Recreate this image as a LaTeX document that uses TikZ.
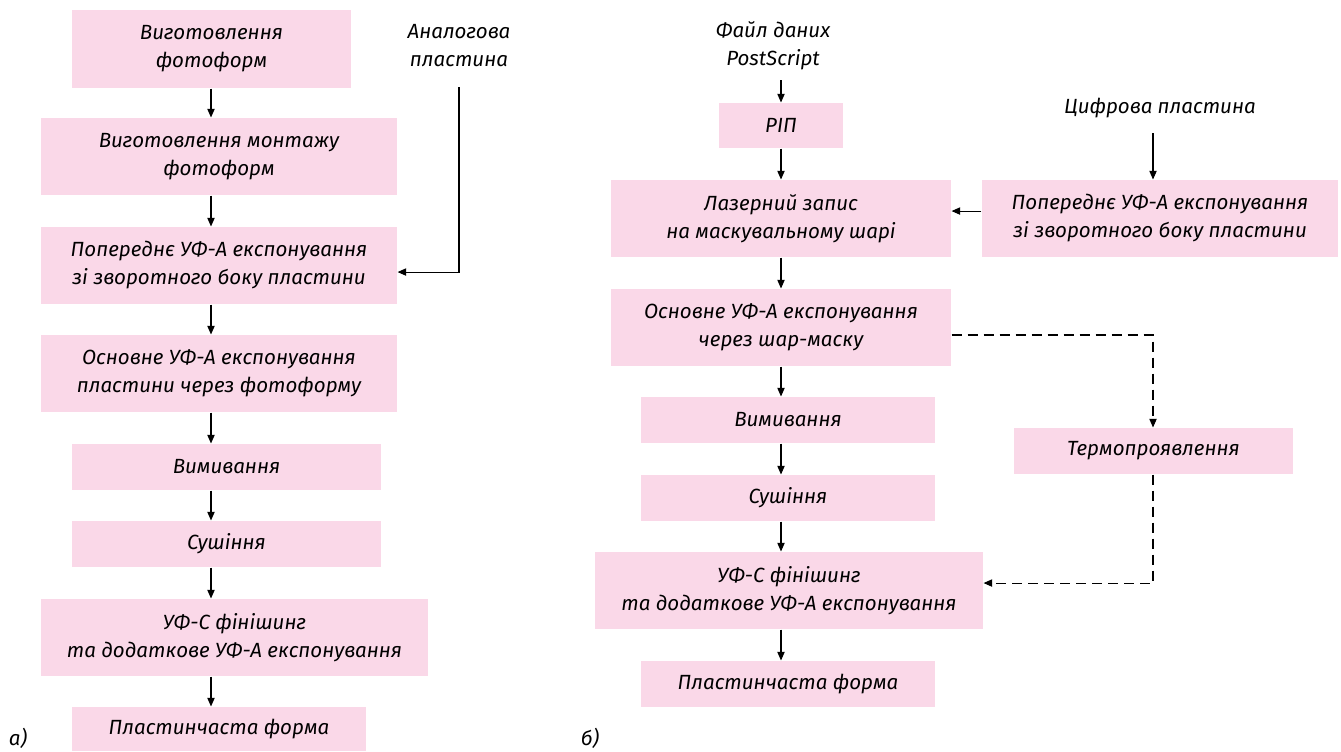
\documentclass[tikz,border=0pt]{standalone}
\usepackage{fontspec}
\setmainfont{Fira Sans}
\usetikzlibrary{arrows.meta}
\definecolor{boxpink}{RGB}{250,216,232}

\begin{document}
\begin{tikzpicture}[x=0.75pt, y=-0.75pt, >={Triangle[length=6.5pt, width=5.5pt]}, line width=0.8pt,
                    font=\itshape\fontsize{15.4}{21}\selectfont]
                \tikzset{stage/.style 2 args={fill=boxpink, align=center, inner sep=0pt,
                                              minimum width=#1*0.75pt, minimum height=#2*0.75pt}}
                \tikzset{source/.style={align=center, inner sep=0pt}}
                \tikzset{thermo/.style={dash pattern=on 7.5pt off 4.5pt}}
                \useasboundingbox (0,0) rectangle (1341,751);

                % SCHEME A: STAGES
                \node[stage={279}{78}] (a1) at (211.5,49) {Виготовлення\\фотоформ};
                \node[stage={356}{77}] (a2) at (219,156.5) {Виготовлення монтажу\\фотоформ};
                \node[stage={356}{77}] (a3) at (219,265.5) {Попереднє УФ-А експонування\\зі зворотного боку пластини};
                \node[stage={356}{77}] (a4) at (219,373.5) {Основне УФ-А експонування\\пластини через фотоформу};
                \node[stage={309}{46}] (a5) at (226.5,467) {Вимивання};
                \node[stage={309}{46}] (a6) at (226.5,544) {Сушіння};
                \node[stage={387}{77}] (a7) at (234.5,637.5) {УФ-С фінішинг\\та додаткове УФ-А експонування};
                \node[stage={294}{44}] (a8) at (219,729) {Пластинчаста форма};

                % SCHEME A: INPUT
                \node[source] (analog) at (459,46) {Аналогова\\пластина};
                \coordinate (astart) at (459,87);
                \coordinate (aspine) at (211,0);

                % SCHEME A: TRANSITIONS
                \foreach \from/\to in {a1/a2, a2/a3, a3/a4, a4/a5, a5/a6, a6/a7, a7/a8}
                    \draw[->] (\from.south -| aspine) -- (\to.north -| aspine);
                \draw[->] (astart) |- ([yshift=-4.9pt] a3.east);

                % SCHEME B: STAGES
                \node[stage={124}{45}] (rip) at (781,125.5) {РІП};
                \node[stage={340}{77}] (b1) at (781,218.5) {Лазерний запис\\на маскувальному шарі};
                \node[stage={356}{77}] (b0) at (1160,218.5) {Попереднє УФ-А експонування\\зі зворотного боку пластини};
                \node[stage={340}{77}] (b2) at (781,327.5) {Основне УФ-А експонування\\через шар-маску};
                \node[stage={294}{46}] (b3) at (788,420) {Вимивання};
                \node[stage={294}{46}] (b4) at (788,498) {Сушіння};
                \node[stage={388}{77}] (b5) at (789,590.5) {УФ-С фінішинг\\та додаткове УФ-А експонування};
                \node[stage={294}{46}] (b6) at (788,684) {Пластинчаста форма};
                \node[stage={279}{46}] (term) at (1153.5,451) {Термопроявлення};

                % SCHEME B: INPUTS
                \node[source] (psfile) at (773,46) {Файл даних\\PostScript};
                \node[source] (digital) at (1160,108) {Цифрова пластина};
                \coordinate (bstart) at (781,80);
                \coordinate (dstart) at (1153,133);
                \coordinate (tspine) at (1153,0);

                % SCHEME B: TRANSITIONS
                \draw[->] (bstart) -- (rip.north);
                \foreach \from/\to in {rip/b1, b1/b2, b2/b3, b3/b4, b4/b5, b5/b6}
                    \draw[->] (\from.south -| rip) -- (\to.north -| rip);
                \draw[->] (dstart) -- (b0.north -| dstart);
                \draw[->] ([yshift=5.6pt] b0.west) -- ([yshift=5.6pt] b1.east);
                \draw[->, thermo] ([yshift=-5.6pt] b2.east) -| (term.north -| tspine);
                \draw[->, thermo] (term.south -| tspine) |- ([yshift=5.6pt] b5.east);

                % CAPTIONS
                \node[source] (capa) at (18,738) {а)};
                \node[source] (capb) at (590,738) {б)};

            \end{tikzpicture}
\end{document}
